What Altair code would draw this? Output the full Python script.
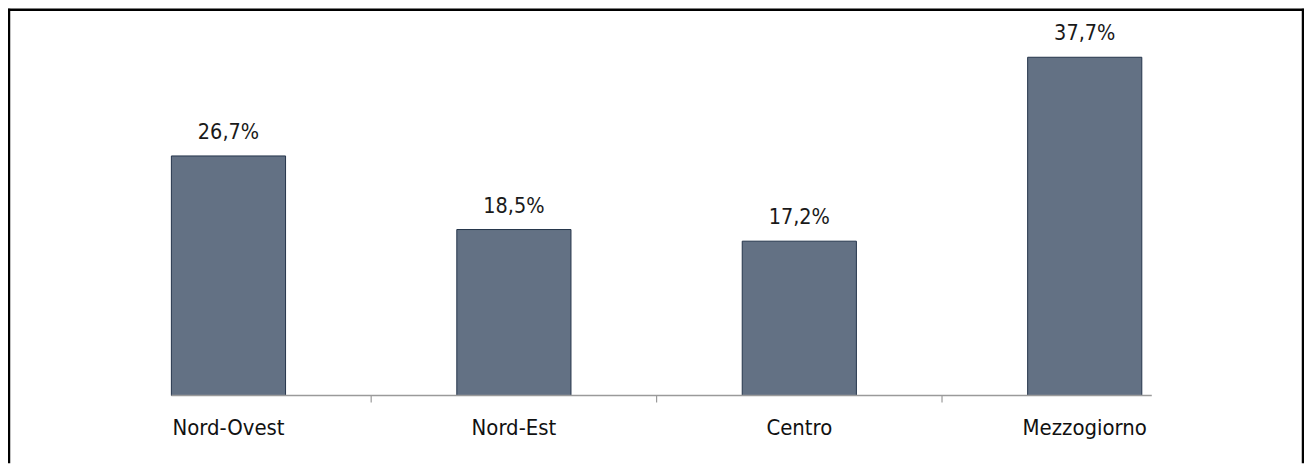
import altair as alt
import pandas as pd

categories = ["Nord-Ovest", "Nord-Est", "Centro", "Mezzogiorno"]
values = [26.7, 18.5, 17.2, 37.7]
labels = [f"{v:.1f}".replace(".", ",") + "%" for v in values]

df = pd.DataFrame({"cat": categories, "val": values, "lab": labels})

FONT = "Liberation Sans Narrow, DejaVu Sans Condensed, Roboto Condensed, Lato, sans-serif"
BAR = "#637184"
BAR_EDGE = "#24344a"
AXIS_C = "#9a9a9a"

TOTAL_W, TOTAL_H = 1300, 456
STEP = 286.3
PW = 4 * STEP          # plot width
PH = 360               # plot height (0..40)
PAD_L, PAD_T = 78, 28
PAD_R = TOTAL_W - PAD_L - PW
PAD_B = TOTAL_H - PAD_T - PH

xscale = alt.Scale(domain=categories, paddingInner=0.6, paddingOuter=0.3)
yscale = alt.Scale(domain=[0, 40], nice=False, zero=True)

X = alt.X("cat:N", scale=xscale, axis=None, sort=categories)
base = alt.Chart(df)

bars = base.mark_bar(color=BAR, stroke=BAR_EDGE, strokeWidth=1).encode(
    x=X, y=alt.Y("val:Q", scale=yscale, axis=None)
)

val_text = base.mark_text(
    baseline="alphabetic", dy=-17, fontSize=21.5, font=FONT, color="#1a1a1a"
).encode(x=X, y=alt.Y("val:Q", scale=yscale, axis=None), text="lab:N")

cat_text = base.mark_text(
    baseline="alphabetic", dy=40, fontSize=22, font=FONT, color="#111111"
).encode(x=X, y=alt.value(PH), text="cat:N")

axis_line = alt.Chart(df.iloc[:1]).mark_rule(color=AXIS_C, strokeWidth=1.5).encode(
    x=alt.value(0.3 * STEP), x2=alt.value(3.7 * STEP + 10), y=alt.value(PH)
)

ticks = alt.Chart(df.iloc[:3]).mark_rule(
    color=AXIS_C, strokeWidth=1.2, xOffset=0.3 * STEP
).encode(
    x=alt.X("cat:N", scale=xscale, axis=None, sort=categories, bandPosition=1),
    y=alt.value(PH),
    y2=alt.value(PH + 7),
)

frame_l = alt.Chart(df.iloc[:1]).mark_rule(color="black", strokeWidth=2.5).encode(
    x=alt.value(-PAD_L + 1), y=alt.value(-PAD_T), y2=alt.value(PH + PAD_B)
)
frame_r = alt.Chart(df.iloc[:1]).mark_rule(color="black", strokeWidth=2.5).encode(
    x=alt.value(PW + PAD_R - 1), y=alt.value(-PAD_T), y2=alt.value(PH + PAD_B)
)
frame_t = alt.Chart(df.iloc[:1]).mark_rule(color="black", strokeWidth=2.5).encode(
    x=alt.value(-PAD_L), x2=alt.value(PW + PAD_R), y=alt.value(-PAD_T + 1)
)

chart = alt.layer(
    bars, axis_line, ticks, val_text, cat_text, frame_l, frame_r, frame_t
).properties(
    width=PW, height=PH,
    padding={"left": PAD_L, "top": PAD_T, "right": PAD_R, "bottom": PAD_B},
    autosize="none", background="white"
).configure_view(stroke=None)

chart.save("out.html", embed_options={"renderer": "svg", "actions": False})
